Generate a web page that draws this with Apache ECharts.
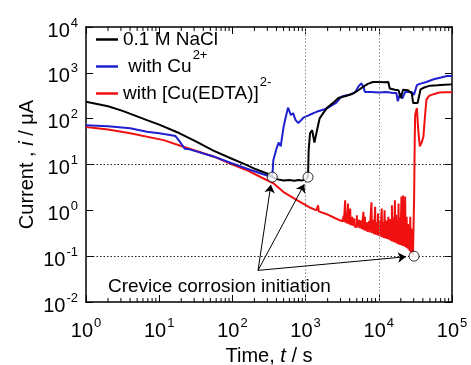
<!DOCTYPE html>
<html>
<head>
<meta charset="utf-8">
<script src="https://cdn.jsdelivr.net/npm/echarts@6/dist/echarts.min.js"></script>
<style>
  html, body { margin: 0; padding: 0; background: #fff; }
  #chart { width: 471px; height: 365px; }
</style>
</head>
<body>
<div id="chart"></div>
<script>
// 0.1 M NaCl  [t / s, i / uA]
const naclData = [
  [1, 234], [2, 186], [3.16, 148], [6.8, 93], [10, 74], [19, 48], [31.6, 32], [55, 20],
  [100, 13.2], [155, 9.8], [200, 8.1], [310, 6.2], [350, 5.4], [400, 4.8], [500, 4.5],
  [600, 4.6], [700, 4.4], [800, 4.6], [900, 4.5], [1000, 4.7], [1080, 5.3],
  [1100, 20], [1150, 48], [1230, 56], [1320, 30], [1410, 50], [1550, 100], [1740, 132],
  [2000, 178], [2400, 224], [2800, 282], [3630, 316], [4470, 355], [5250, 417],
  [6170, 500], [7080, 575], [8320, 630], [10000, 630], [12000, 620], [13500, 630],
  [14100, 457], [16600, 427], [18600, 417], [20000, 282], [21400, 427], [25100, 417],
  [28200, 355], [29500, 219], [33900, 219], [37200, 437], [41700, 479], [50100, 525],
  [63100, 537], [79400, 550], [100000, 560]
];

// with Cu2+
const cuData = [
  [1, 72], [2, 68], [4, 62], [6.8, 52], [10, 48], [14, 44], [16.6, 42], [19, 32],
  [22.4, 22], [26, 21.4], [55, 15], [100, 10.5], [155, 8.2], [250, 6.3], [350, 5.3],
  [363, 12.6], [400, 22], [427, 30], [457, 25], [500, 66], [537, 110], [575, 174],
  [600, 158], [630, 120], [676, 132], [724, 95], [794, 80], [933, 105], [1120, 120],
  [1410, 141], [1780, 158], [2140, 182], [2630, 224], [3090, 302], [3390, 316],
  [3980, 331], [4790, 380], [5250, 500], [5750, 589], [6170, 500], [6460, 380],
  [7940, 380], [10000, 372], [12600, 380], [15800, 363], [17400, 363], [18200, 240],
  [19500, 355], [20900, 275], [22900, 380], [28200, 380], [30200, 331], [33100, 537],
  [36300, 575], [44700, 630], [56200, 724], [70800, 794], [85100, 851], [100000, 851]
];

// with [Cu(EDTA)]2-
const edtaData = [
  [1, 66], [2, 58], [4, 48], [11.5, 34], [19, 26], [31.6, 20], [55, 15], [100, 10],
  [155, 7.6], [250, 5.2], [363, 3.9], [500, 2.5], [794, 1.6], [1120, 1.17], [1410, 1.0],
  [1480, 1.29], [1510, 0.95], [2000, 0.81], [2510, 0.68], [3160, 0.575],
  [3300, 0.56], [3320, 0.75], [3340, 0.56],
  [3470, 0.54], [3470, 1.66], [3500, 0.54],
  [3600, 0.53], [3620, 0.8], [3650, 0.52],
  [3800, 0.51], [3800, 1.41], [3830, 0.51],
  [3950, 0.49], [3980, 0.7], [4000, 0.49],
  [4070, 0.48], [4070, 1.1], [4110, 0.48],
  [4300, 0.47], [4330, 0.72], [4380, 0.46],
  [4600, 0.45], [4630, 0.66], [4700, 0.44],
  [5010, 0.43], [5010, 0.78], [5060, 0.43],
  [5300, 0.42], [5350, 0.62], [5450, 0.41],
  [5700, 0.40], [5750, 0.6], [5850, 0.39],
  [6170, 0.37], [6170, 0.93], [6250, 0.37],
  [6460, 0.365], [6460, 0.72], [6550, 0.36],
  [6800, 0.35], [6850, 0.55], [7000, 0.34],
  [7300, 0.335], [7350, 0.58], [7500, 0.33],
  [7940, 0.32], [7940, 1.5], [8050, 0.32],
  [8400, 0.31], [8450, 0.62], [8600, 0.30],
  [8910, 0.30], [8910, 1.2], [9050, 0.295],
  [9400, 0.29], [9450, 0.55], [9600, 0.285],
  [9770, 0.28], [9770, 0.85], [9900, 0.28],
  [10300, 0.275], [10350, 0.6], [10500, 0.27],
  [10960, 0.265], [10960, 1.1], [11100, 0.26],
  [11500, 0.255], [11550, 0.55], [11700, 0.25],
  [12000, 0.25], [12000, 1.0], [12200, 0.245],
  [12700, 0.24], [12750, 0.6], [13000, 0.237],
  [13500, 0.235], [13500, 0.72], [13700, 0.23],
  [14100, 0.225], [14150, 0.65], [14400, 0.22],
  [14800, 0.215], [14850, 0.5], [15100, 0.212], [15100, 1.29], [15300, 0.21],
  [15800, 0.205], [15850, 0.7], [16100, 0.202],
  [16600, 0.20], [16600, 1.66], [16800, 0.198],
  [17200, 0.195], [17250, 0.8], [17500, 0.19],
  [18000, 0.187], [18050, 0.6], [18300, 0.185],
  [18600, 0.183], [18600, 1.41], [18900, 0.18],
  [19300, 0.178], [19350, 0.7], [19700, 0.176],
  [20400, 0.174], [20400, 2.0], [20700, 0.172],
  [21000, 0.17], [21050, 0.9], [21400, 0.168], [21400, 2.1], [21700, 0.166],
  [22200, 0.164], [22250, 0.8], [22600, 0.162], [22900, 0.16], [22900, 2.0], [23200, 0.158],
  [23600, 0.155], [23650, 0.6], [24000, 0.152], [24000, 0.72], [24400, 0.149],
  [25000, 0.145], [25050, 0.5], [25500, 0.14],
  [26000, 0.135], [26050, 0.45], [26500, 0.13], [26900, 0.126], [26900, 0.72], [27300, 0.122],
  [27800, 0.118], [27850, 0.4], [28300, 0.113],
  [28800, 0.11], [28850, 0.35], [29300, 0.107], [29800, 0.105],
  [30300, 0.1], [30400, 2], [30700, 10], [31000, 40], [31400, 120], [33100, 170],
  [34500, 60], [36300, 25], [38500, 30], [40700, 41], [42700, 110], [44700, 257],
  [48000, 310], [52500, 331], [60000, 355], [67600, 372], [80000, 375], [100000, 375]
];

// crevice corrosion initiation points and arrows
const initT = [350, 1080, 30300];
const initI = [5.3, 5.3, 0.1];
const arrowFrom = [224, 0.049];
const arrowTo = [[335, 3.6], [960, 3.7], [23500, 0.097]];

const xTickGrid = [1000, 10000];
const yTickGrid = [10, 0.1];

const xMin = 1, xMax = 100000, yMin = 0.01, yMax = 10000;

// minor ticks 2..9 per decade
const minorTicks = [];
for (let k = 0; k < 5; k++) {
  for (let m = 2; m < 10; m++) minorTicks.push([m * Math.pow(10, k), 1]);
}

const FONT = 'Liberation Sans';

const supRich = {
  b: { fontSize: 20, lineHeight: 22, verticalAlign: 'middle', fontFamily: FONT, color: '#000' },
  s: { fontSize: 13, lineHeight: 14, verticalAlign: 'middle', padding: [0, 0, 16, 1], fontFamily: FONT, color: '#000' }
};

const powLabel = function (v) {
  const e = Math.round(Math.log10(v));
  return '{b|10}{s|' + e + '}';
};

const legendNames = {
  nacl: '{b|0.1 M NaCl}{s| }',
  cu: '{b| with Cu}{s|2+}',
  edta: '{b|with [Cu(EDTA)]}{s|2-}'
};

const chart = echarts.init(document.getElementById('chart'));

const axisLine = { lineStyle: { color: '#000', width: 1.5 } };

const option = {
  animation: false,
  grid: { left: 86, right: 19, top: 27, bottom: 63, outerBoundsMode: 'none', containLabel: false },
  legend: {
    orient: 'vertical',
    left: 96,
    top: 22,
    padding: 0,
    itemGap: -8,
    itemWidth: 22,
    itemHeight: 2.5,
    icon: 'rect',
    data: ['nacl', 'cu', 'edta'],
    formatter: function (name) { return legendNames[name]; },
    textStyle: {
      fontFamily: FONT,
      fontSize: 19,
      color: '#000',
      rich: {
        b: { fontSize: 19, lineHeight: 20, verticalAlign: 'middle', fontFamily: FONT, color: '#000' },
        s: { fontSize: 13, lineHeight: 14, verticalAlign: 'middle', padding: [0, 0, 22, 1], fontFamily: FONT, color: '#000' }
      }
    }
  },
  xAxis: [
    {
      type: 'log', logBase: 10, min: xMin, max: xMax,
      position: 'bottom',
      axisLine: axisLine,
      axisTick: { inside: true, length: 7, lineStyle: { color: '#000', width: 1 } },
      splitLine: { show: false },
      axisLabel: { formatter: powLabel, rich: supRich, margin: 18, verticalAlign: 'top' },
      name: '{n|Time, }{i|t}{n| / s}',
      nameLocation: 'middle',
      nameGap: 44,
      nameMoveOverlap: false,
      nameTextStyle: {
        rich: {
          n: { fontSize: 20, fontFamily: FONT, color: '#000' },
          i: { fontSize: 20, fontFamily: FONT, fontStyle: 'italic', color: '#000' }
        }
      }
    },
    {
      type: 'log', logBase: 10, min: xMin, max: xMax,
      position: 'top',
      axisLine: axisLine,
      axisTick: { inside: true, length: 7, lineStyle: { color: '#000', width: 1 } },
      axisLabel: { show: false },
      splitLine: { show: false }
    }
  ],
  yAxis: [
    {
      type: 'log', logBase: 10, min: yMin, max: yMax,
      position: 'left',
      axisLine: axisLine,
      axisTick: { inside: true, length: 7, lineStyle: { color: '#000', width: 1 } },
      splitLine: { show: false },
      axisLabel: { formatter: powLabel, rich: supRich, margin: 8, padding: [8, 0, 0, 0] },
      name: '{n|Current , }{i|i}{n| / μA}',
      nameLocation: 'middle',
      nameGap: 49,
      nameMoveOverlap: false,
      nameTextStyle: {
        rich: {
          n: { fontSize: 20, fontFamily: FONT, color: '#000' },
          i: { fontSize: 20, fontFamily: FONT, fontStyle: 'italic', color: '#000' }
        }
      }
    },
    {
      type: 'log', logBase: 10, min: yMin, max: yMax,
      position: 'right',
      axisLine: axisLine,
      axisTick: { inside: true, length: 7, lineStyle: { color: '#000', width: 1 } },
      axisLabel: { show: false },
      splitLine: { show: false }
    }
  ],
  graphic: [
    {
      type: 'text', left: 108, top: 277,
      style: {
        text: 'Crevice corrosion initiation',
        fontSize: 19, fontFamily: FONT, fill: '#000'
      }
    }
  ],
  series: [
    {
      name: 'guides', type: 'line', data: [], z: 1, silent: true,
      markLine: {
        silent: true, symbol: ['none', 'none'], animation: false,
        label: { show: false },
        data: xTickGrid.map(function (v) {
          return { xAxis: v, lineStyle: { color: '#8a8a8a', type: [1.5, 2], width: 1 } };
        }).concat(yTickGrid.map(function (v) {
          return { yAxis: v, lineStyle: { color: '#222', type: [1.5, 2], width: 1 } };
        }))
      }
    },
    {
      name: 'minor', type: 'custom', data: minorTicks, silent: true, z: 3,
      renderItem: function (params, api) {
        const v = api.value(0);
        const b = api.coord([v, yMin]);
        const t = api.coord([v, yMax]);
        const st = { stroke: '#000', lineWidth: 1 };
        return {
          type: 'group',
          children: [
            { type: 'line', shape: { x1: b[0], y1: b[1], x2: b[0], y2: b[1] - 4 }, style: st },
            { type: 'line', shape: { x1: t[0], y1: t[1], x2: t[0], y2: t[1] + 4 }, style: st }
          ]
        };
      }
    },
    {
      name: 'edta', type: 'line', data: edtaData, showSymbol: false, z: 2,
      lineStyle: { color: '#f01010', width: 2 }, itemStyle: { color: '#f01010' }
    },
    {
      name: 'cu', type: 'line', data: cuData, showSymbol: false, z: 3,
      lineStyle: { color: '#2020d0', width: 2 }, itemStyle: { color: '#2020d0' }
    },
    {
      name: 'nacl', type: 'line', data: naclData, showSymbol: false, z: 4,
      lineStyle: { color: '#000', width: 2 }, itemStyle: { color: '#000' }
    },
    {
      name: 'init', type: 'scatter', z: 6, symbol: 'circle', symbolSize: 10,
      itemStyle: { color: '#fff', borderColor: '#000', borderWidth: 1 },
      data: initT.map(function (t, k) { return [t, initI[k]]; }),
      markLine: {
        silent: true, animation: false,
        symbol: ['none', 'arrow'], symbolSize: 8,
        label: { show: false },
        lineStyle: { color: '#000', width: 1, type: 'solid' },
        data: arrowTo.map(function (p) {
          return [{ coord: arrowFrom }, { coord: p }];
        })
      }
    }
  ]
};

chart.setOption(option);
</script>
</body>
</html>
